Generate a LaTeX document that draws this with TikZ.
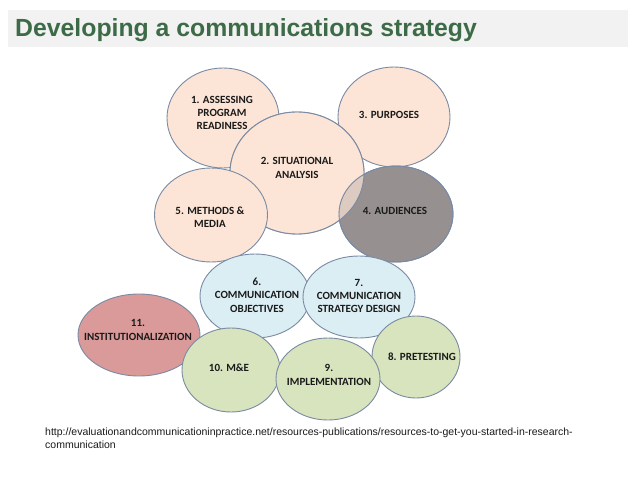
\documentclass[tikz,border=0pt]{standalone}
\usepackage{fontspec}
\setmainfont{Liberation Sans}
\newfontfamily\carlito{Carlito}
\usetikzlibrary{shapes.geometric}
\definecolor{peach}{HTML}{FCE5D6}
\definecolor{lblue}{HTML}{DBEEF4}
\definecolor{lgreen}{HTML}{D7E4BD}
\definecolor{pinkred}{HTML}{D99A99}
\definecolor{dgray}{HTML}{969190}
\definecolor{edge}{HTML}{7A8AA3}
\definecolor{titlegreen}{HTML}{3D6B47}
\definecolor{barbg}{HTML}{F2F2F2}
\definecolor{txt}{HTML}{1A1A1A}
\tikzset{
  bubble/.style={ellipse, draw=edge, line width=0.9pt, inner sep=0pt},
  btext/.style={align=center, text=txt, font=\carlito\bfseries\fontsize{11}{13.3}\selectfont, inner sep=0pt},
}
\begin{document}
\begin{tikzpicture}[x=1pt,y=-1pt]
\useasboundingbox (0,0) rectangle (638,479);
\fill[white] (0,0) rectangle (638,479);
% title bar
\fill[barbg] (8,10) rectangle (628,47);
\node[anchor=base west, inner sep=0pt, text=titlegreen, font=\bfseries\fontsize{24.8}{28}\selectfont] (title) at (15,36) {Developing a communications strategy};
% upper cluster
\node[bubble, fill=peach, minimum width=112pt, minimum height=100pt] (e1) at (223,118) {};
\node[bubble, fill=peach, minimum width=112pt, minimum height=100pt] (e3) at (394,117) {};
\node[bubble, fill=peach, minimum width=134pt, minimum height=122pt] (e2) at (297,173) {};
\node[bubble, fill=dgray, minimum width=114pt, minimum height=96pt] (e4) at (396,214) {};
% translucent second coat of 2 gives the lighter overlap with 4
\node[bubble, fill=peach, fill opacity=0.7, minimum width=134pt, minimum height=122pt] (e2b) at (297,173) {};
\draw[edge, line width=0.9pt] (e4.center) ellipse [x radius=57pt, y radius=48pt];
\node[bubble, fill=peach, minimum width=113pt, minimum height=94pt] (e5) at (211,215) {};
% middle
\node[bubble, fill=lblue, minimum width=110pt, minimum height=84pt] (e6) at (255,296) {};
\node[bubble, fill=lblue, minimum width=112pt, minimum height=82pt] (e7) at (359,297) {};
% lower
\node[bubble, fill=pinkred, minimum width=122pt, minimum height=82pt] (e11) at (139,335) {};
\node[bubble, fill=lgreen, minimum width=88pt, minimum height=82pt] (e8) at (416,357) {};
\node[bubble, fill=lgreen, minimum width=98pt, minimum height=84pt] (e10) at (231,370) {};
\node[bubble, fill=lgreen, minimum width=104pt, minimum height=82pt] (e9) at (328,379) {};
% labels
\node[btext] (t1) at (222,113) {1. ASSESSING\\PROGRAM\\READINESS};
\node[btext] (t2) at (297,168) {2. SITUATIONAL\\ANALYSIS};
\node[btext] (t3) at (389,115) {3. PURPOSES};
\node[btext] (t4) at (395,211) {4. AUDIENCES};
\node[btext] (t5) at (210,217) {5. METHODS \&\\MEDIA};
\node[btext] (t6) at (257,295) {6.\\COMMUNICATION\\OBJECTIVES};
\node[btext] (t7) at (359,296) {7.\\COMMUNICATION\\STRATEGY DESIGN};
\node[btext] (t8) at (422,357) {8. PRETESTING};
\node[btext] (t9) at (329,375) {9.\\IMPLEMENTATION};
\node[btext] (t10) at (229,368) {10. M\&E};
\node[btext] (t11) at (138,330) {11.\\INSTITUTIONALIZATION};
% source
\node[anchor=north west, align=left, inner sep=0pt, text=txt, font=\fontsize{10.5}{12.5}\selectfont] (src) at (45,428) {http://evaluationandcommunicationinpractice.net/resources-publications/resources-to-get-you-started-in-research-\\communication};
\end{tikzpicture}
\end{document}
